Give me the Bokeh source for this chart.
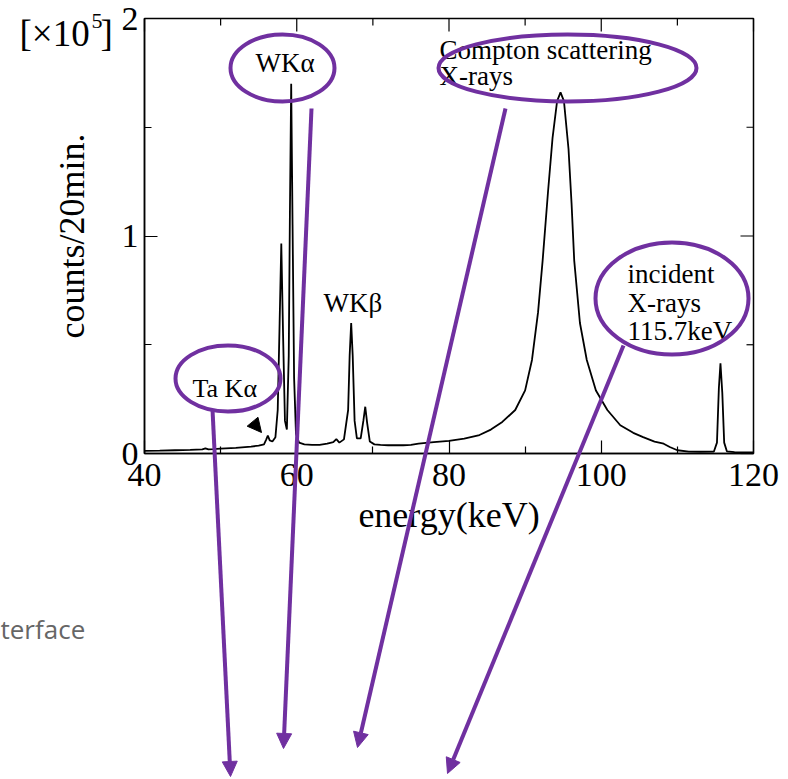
from bokeh.plotting import figure
from bokeh.models import Range1d, FixedTicker, Label, Arrow, NormalHead
from bokeh.embed import file_html
from bokeh.resources import INLINE

# ---------------- data ----------------
energy_kev = [40.0, 42.0, 44.0, 46.0, 47.6, 48.0, 48.4, 49.0, 50.0, 52.0, 54.0, 55.0,
              55.7, 56.0, 56.2, 56.45, 56.8, 57.2, 57.5, 57.75, 57.97, 58.2, 58.45,
              58.7, 58.95, 59.1, 59.27, 59.45, 59.65, 59.9, 60.3, 61.0, 62.0, 63.0,
              64.0, 64.8, 65.2, 65.6, 66.2, 66.75, 66.95, 67.15, 67.35, 67.6, 67.9,
              68.4, 68.75, 69.0, 69.25, 69.6, 70.2, 71.0, 72.0, 74.0, 75.0, 76.0,
              78.0, 80.0, 82.0, 84.0, 85.5, 87.0, 88.7, 90.0, 90.9, 91.7, 92.3, 93.0,
              93.6, 94.2, 94.65, 95.1, 95.7, 96.1, 96.45, 97.2, 98.1, 99.3, 100.8,
              102.5, 104.2, 105.5, 107.0, 108.2, 109.0, 110.0, 111.5, 113.0, 114.8,
              115.2, 115.45, 115.66, 115.9, 116.15, 116.5, 117.5, 120.0]
counts_1e5 = [0.012, 0.013, 0.015, 0.017, 0.019, 0.024, 0.019, 0.020, 0.022, 0.026, 0.032, 0.036,
              0.042, 0.065, 0.082, 0.060, 0.055, 0.075, 0.20, 0.60, 0.965, 0.55, 0.15,
              0.11, 0.45, 1.10, 1.70, 1.05, 0.35, 0.09, 0.050, 0.042, 0.040, 0.040,
              0.045, 0.052, 0.066, 0.050, 0.065, 0.20, 0.45, 0.60, 0.45, 0.15, 0.07,
              0.07, 0.15, 0.215, 0.14, 0.055, 0.042, 0.040, 0.038, 0.038, 0.040, 0.045,
              0.052, 0.058, 0.068, 0.085, 0.11, 0.145, 0.20, 0.29, 0.43, 0.65, 0.887, 1.20,
              1.45, 1.62, 1.66, 1.62, 1.40, 1.15, 0.887, 0.60, 0.43, 0.29, 0.20,
              0.13, 0.095, 0.075, 0.055, 0.045, 0.030, 0.015, 0.009, 0.008, 0.009,
              0.05, 0.30, 0.415, 0.28, 0.05, 0.010, 0.006, 0.005]

x_major_ticks = [40, 60, 80, 100, 120]
x_minor_ticks = [50, 70, 90, 110]
y_major_ticks = [0, 1, 2]
y_minor_ticks = [0.5, 1.5]

x_label = "energy(keV)"
y_label = "counts/20min."

# ---------------- styles / layout ----------------
PURPLE = "#7030A0"
SERIF = "Liberation Serif"
W, H = 788, 779
FL, FR, FT, FB = 144, 753, 18, 453   # chart box on the page (px)
X0, X1, Y0, Y1 = 40, 120, 0, 2
MAJ, MIN = 13, 7                     # inward tick lengths (px)
TXT_DY = -10                         # baseline correction for labels (px)


def dx(px):
    return X0 + (px - FL) * (X1 - X0) / (FR - FL)


def dy(py):
    return Y0 + (FB - py) * (Y1 - Y0) / (FB - FT)


def sx(px):
    return px * (X1 - X0) / (FR - FL)


def sy(py):
    return py * (Y1 - Y0) / (FB - FT)


p = figure(width=W, height=H, min_border=0,
           min_border_left=0, min_border_right=0, min_border_top=0, min_border_bottom=0,
           x_range=Range1d(dx(0), dx(W)), y_range=Range1d(dy(H), dy(0)),
           output_backend="svg", toolbar_location=None)
p.grid.visible = False
p.outline_line_color = None
p.background_fill_color = "white"
p.border_fill_color = "white"


def style_axis(ax):
    ax.axis_line_color = "black"
    ax.axis_line_width = 1.5
    ax.major_tick_in = MAJ
    ax.major_tick_out = 0
    ax.minor_tick_in = MIN
    ax.minor_tick_out = 0
    ax.major_tick_line_width = 1.2
    ax.minor_tick_line_width = 1.2
    ax.major_tick_line_color = "black"
    ax.minor_tick_line_color = "black"
    ax.major_label_text_font = SERIF
    ax.major_label_text_font_size = "34px"
    ax.major_label_text_color = "black"
    ax.axis_label_text_font = SERIF
    ax.axis_label_text_font_size = "36px"
    ax.axis_label_text_font_style = "normal"
    ax.axis_label_text_color = "black"


p.xaxis.ticker = FixedTicker(ticks=x_major_ticks, minor_ticks=x_minor_ticks)
p.yaxis.ticker = FixedTicker(ticks=y_major_ticks, minor_ticks=y_minor_ticks)
style_axis(p.xaxis[0])
style_axis(p.yaxis[0])
p.xaxis.fixed_location = Y0
p.yaxis.fixed_location = X0
p.xaxis.bounds = (X0, X1)
p.yaxis.bounds = (Y0, Y1)
p.xaxis.axis_label = x_label
p.yaxis.axis_label = y_label
p.xaxis.major_label_standoff = 10
p.yaxis.major_label_standoff = 6
p.xaxis.axis_label_standoff = 6
p.yaxis.axis_label_standoff = 27

# box outline and the inward ticks of the top and right edges
p.quad(left=[X0], right=[X1], bottom=[Y0], top=[Y1], fill_alpha=0,
       line_color="black", line_width=1.5)
p.segment(x0=x_major_ticks, y0=[Y1] * len(x_major_ticks), x1=x_major_ticks,
          y1=[Y1 - sy(MAJ)] * len(x_major_ticks), line_color="black", line_width=1.2)
p.segment(x0=x_minor_ticks, y0=[Y1] * len(x_minor_ticks), x1=x_minor_ticks,
          y1=[Y1 - sy(MIN)] * len(x_minor_ticks), line_color="black", line_width=1.2)
p.segment(x0=[X1] * len(y_major_ticks), y0=y_major_ticks, x1=[X1 - sx(MAJ)] * len(y_major_ticks),
          y1=y_major_ticks, line_color="black", line_width=1.2)
p.segment(x0=[X1] * len(y_minor_ticks), y0=y_minor_ticks, x1=[X1 - sx(MIN)] * len(y_minor_ticks),
          y1=y_minor_ticks, line_color="black", line_width=1.2)

# spectrum
p.line(energy_kev, counts_1e5, line_color="black", line_width=1.8)

# purple ellipses (centre x, centre y, width, height in page px)
ellipses = [(282, 67.5, 104, 67), (567, 67.5, 258, 67), (671.5, 298, 153, 112), (227.5, 378, 105, 66)]
p.ellipse(x=[dx(e[0]) for e in ellipses], y=[dy(e[1]) for e in ellipses],
          width=[sx(e[2]) for e in ellipses], height=[sy(e[3]) for e in ellipses],
          fill_alpha=0, line_color=PURPLE, line_width=4, level="overlay")

# purple arrows (start -> tip, page px)
arrows = [((212, 409), (230, 776)), ((311, 108), (283, 748)),
          ((505, 108), (357, 747)), ((623, 345), (447, 773))]
for (s, e) in arrows:
    p.add_layout(Arrow(x_start=dx(s[0]), y_start=dy(s[1]), x_end=dx(e[0]), y_end=dy(e[1]),
                       line_color=PURPLE, line_width=4,
                       end=NormalHead(size=15, fill_color=PURPLE, line_color=PURPLE, line_width=1)))

# small black pointer to the Ta K-alpha bump
p.add_layout(Arrow(x_start=dx(249), y_start=dy(417.5), x_end=dx(261), y_end=dy(432),
                   line_alpha=0, line_width=1,
                   end=NormalHead(size=14, fill_color="black", line_color="black", line_width=1)))

# texts (left x, baseline y, text, size)
texts = [(255, 72, "WKα", "27px"), (439, 59, "Compton scattering", "27px"), (439, 85, "X-rays", "27px"),
         (323, 312, "WKβ", "27px"), (192, 398, "Ta Kα", "26px"),
         (627, 283, "incident", "27px"), (627, 312, "X-rays", "27px"), (627, 340, "115.7keV", "27px"),
         (19, 43, "[×10", "37px"), (91, 30, "5", "22px"), (100, 43, "]", "37px")]
for (x, y, t, s) in texts:
    p.add_layout(Label(x=dx(x), y=dy(y + TXT_DY), text=t, text_font=SERIF, text_font_size=s,
                       text_color="black", text_align="left", text_baseline="alphabetic"))

p.add_layout(Label(x=dx(0), y=dy(638 + TXT_DY), text="terface", text_font="Open Sans",
                   text_font_size="26px", text_color="#666666", text_align="left",
                   text_baseline="alphabetic"))

open("out.html", "w").write(file_html(p, INLINE))
